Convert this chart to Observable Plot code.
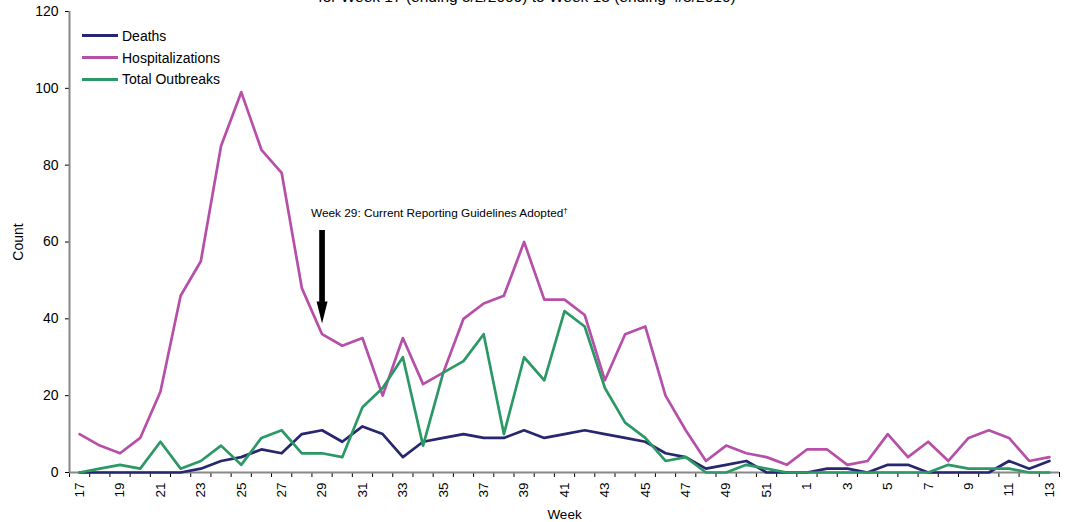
<!DOCTYPE html>
<html><head><meta charset="utf-8">
<script src="https://cdn.jsdelivr.net/npm/d3@7"></script>
<script src="https://cdn.jsdelivr.net/npm/@observablehq/plot@0.6"></script>
<style>
body{margin:0;background:#fff;font-family:Arial,"Liberation Sans",sans-serif;}
#wrap{position:relative;width:1069px;height:522px;overflow:hidden;background:#fff;}
#title{position:absolute;top:-12px;left:0;width:1054px;text-align:center;font-size:15.5px;line-height:18px;white-space:nowrap;}
#legend{position:absolute;left:82px;top:25px;font-size:14px;}
.row{display:flex;align-items:center;height:21.7px;}
.sw{width:36px;height:3px;margin-right:4px;}
#chart{position:absolute;left:0;top:0;}
</style></head>
<body><div id="wrap"><div id="chart"></div><div id="title">for Week 17 (ending 5/2/2009) to Week 13 (ending 4/3/2010)</div><div id="legend"></div></div>
<script>
const weeks = ["17","18","19","20","21","22","23","24","25","26","27","28","29","30","31","32","33","34","35","36","37","38","39","40","41","42","43","44","45","46","47","48","49","50","51","52","1","2","3","4","5","6","7","8","9","10","11","12","13"];
const deaths = [0,0,0,0,0,0,1,3,4,6,5,10,11,8,12,10,4,8,9,10,9,9,11,9,10,11,10,9,8,5,4,1,2,3,0,0,0,1,1,0,2,2,0,0,0,0,3,1,3];
const hospitalizations = [10,7,5,9,21,46,55,85,99,84,78,48,36,33,35,20,35,23,26,40,44,46,60,45,45,41,24,36,38,20,11,3,7,5,4,2,6,6,2,3,10,4,8,3,9,11,9,3,4];
const outbreaks = [0,1,2,1,8,1,3,7,2,9,11,5,5,4,17,22,30,7,26,29,36,10,30,24,42,38,22,13,9,3,4,0,0,2,1,0,0,0,0,0,0,0,0,2,1,1,1,0,0];
const yTicks = [0,20,40,60,80,100,120];
const seriesNames = ["Deaths","Hospitalizations","Total Outbreaks"];
const seriesColors = ["#27276F","#B64FA8","#2C9866"];
const annotation = {week: "29", top: 63, tip: 38.8, labelY: 67.5, label: "Week 29: Current Reporting Guidelines Adopted†"};

const seriesValues = [deaths, hospitalizations, outbreaks];
const rows = seriesNames.flatMap((name, s) => seriesValues[s].map((v, i) => ({i, week: weeks[i], value: v, series: name})));
const idx = weeks.map((_, i) => i);
const annX = weeks.indexOf(annotation.week);

const headDown = {draw(ctx) { ctx.moveTo(-5.5, -22); ctx.lineTo(5.5, -22); ctx.lineTo(0, 0); ctx.closePath(); }};

const plot = Plot.plot({
  width: 1069, height: 522,
  marginLeft: 69, marginRight: 10, marginTop: 11, marginBottom: 50,
  style: {fontFamily: "Arial, 'Liberation Sans', sans-serif", fontSize: "14px", background: "transparent", color: "#000"},
  x: {type: "linear", domain: [-0.5, weeks.length - 0.5]},
  y: {domain: [0, 120]},
  color: {domain: seriesNames, range: seriesColors},
  marks: [
    Plot.axisY({ticks: yTicks, tickSize: 4, tickPadding: 7, fontSize: 14, label: "Count", labelAnchor: "center", labelOffset: 56, labelArrow: "none"}),
    Plot.axisX({ticks: idx.filter(i => i % 2 === 0), tickFormat: i => weeks[i], tickRotate: -90, tickSize: 0, tickPadding: 10, fontSize: 13.5, label: "Week", labelAnchor: "center", labelOffset: 46, labelArrow: "none"}),
    Plot.axisX({ticks: d3.range(-0.5, weeks.length), tickFormat: () => "", tickSize: 5, label: null}),
    Plot.ruleY([0], {stroke: "#888", strokeWidth: 2}),
    Plot.ruleX([-0.5], {stroke: "#888", strokeWidth: 2}),
    Plot.line(rows, {x: "i", y: "value", z: "series", stroke: "series", strokeWidth: 2.7}),
    Plot.ruleX([annotation], {x: () => annX, y1: "top", y2: "tip", stroke: "black", strokeWidth: 5.7, insetBottom: 21}),
    Plot.dot([annotation], {x: () => annX, y: "tip", symbol: headDown, fill: "black", stroke: "none", r: 5}),
    Plot.text([annotation], {x: () => annX, y: "labelY", text: "label", textAnchor: "start", dx: -11, fontSize: 11.8})
  ]
});
document.getElementById("chart").appendChild(plot);

// superscript dagger
plot.querySelectorAll("text").forEach(t => {
  if (t.textContent.endsWith("†")) {
    t.textContent = t.textContent.slice(0, -1);
    const ts = document.createElementNS("http://www.w3.org/2000/svg", "tspan");
    ts.setAttribute("dy", "-4");
    ts.setAttribute("font-size", "8");
    ts.textContent = "†";
    t.appendChild(ts);
  }
});

const legend = document.getElementById("legend");
seriesNames.forEach((name, s) => {
  const row = document.createElement("div"); row.className = "row";
  const sw = document.createElement("div"); sw.className = "sw"; sw.style.background = seriesColors[s];
  const lab = document.createElement("span"); lab.textContent = name;
  row.appendChild(sw); row.appendChild(lab); legend.appendChild(row);
});
</script>
</body></html>
